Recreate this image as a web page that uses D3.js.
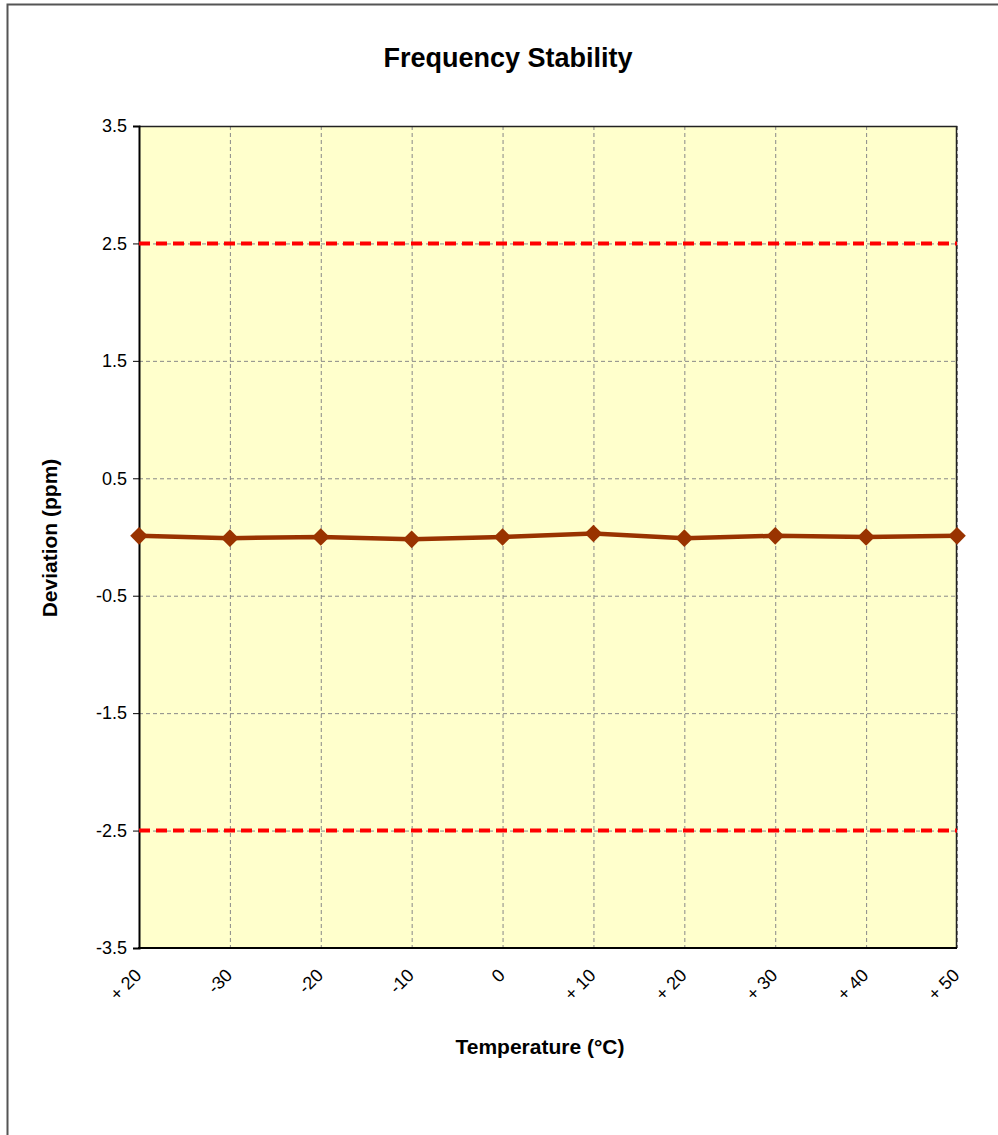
<!DOCTYPE html>
<html>
<head>
<meta charset="utf-8">
<script src="https://cdn.jsdelivr.net/npm/d3@7"></script>
<style>
  body { margin: 0; background: #fff; }
  text { font-family: Arial, "Liberation Sans", sans-serif; }
</style>
</head>
<body>
<svg id="chart"></svg>
<script>
// Chart data
var categories = ['+ 20', '-30', '-20', '-10', '0', '+ 10', '+ 20 ', '+ 30', '+ 40', '+ 50'];
var deviation = [0.01, -0.01, 0.0, -0.02, 0.0, 0.03, -0.01, 0.01, 0.0, 0.01];
var limits = [2.5, -2.5];
var yTicks = [-3.5, -2.5, -1.5, -0.5, 0.5, 1.5, 2.5, 3.5];

var config = {
  width: 998,
  height: 1135,
  plot: { left: 139, right: 957, top: 126, bottom: 948 },
  lineColor: '#993300',
  limitColor: '#ff0000',
  plotFill: '#ffffcc',
  tickFont: '18px',
  axisTitleFont: '21px',
};

var svg = d3.select('#chart')
  .attr('width', config.width)
  .attr('height', config.height);

// outer chart frame
svg.append('rect')
  .attr('x', 7.5).attr('y', 4.5)
  .attr('width', 1100).attr('height', 1200)
  .attr('fill', 'none')
  .attr('stroke', '#555')
  .attr('stroke-width', 2);

var x = d3.scalePoint()
  .domain(categories)
  .range([config.plot.left, config.plot.right]);

var y = d3.scaleLinear()
  .domain([-3.5, 3.5])
  .range([config.plot.bottom, config.plot.top]);

// plot background
svg.append('rect')
  .attr('x', config.plot.left).attr('y', config.plot.top)
  .attr('width', config.plot.right - config.plot.left)
  .attr('height', config.plot.bottom - config.plot.top)
  .attr('fill', config.plotFill);

// gridlines
svg.append('g')
  .selectAll('line')
  .data(yTicks)
  .join('line')
  .attr('x1', config.plot.left).attr('x2', config.plot.right)
  .attr('y1', function(d) { return y(d) + 0.5; })
  .attr('y2', function(d) { return y(d) + 0.5; })
  .attr('stroke', '#888').attr('stroke-width', 1)
  .attr('stroke-dasharray', '4,3');

svg.append('g')
  .selectAll('line')
  .data(categories)
  .join('line')
  .attr('x1', function(d) { return x(d) + 0.5; })
  .attr('x2', function(d) { return x(d) + 0.5; })
  .attr('y1', config.plot.top).attr('y2', config.plot.bottom)
  .attr('stroke', '#888').attr('stroke-width', 1)
  .attr('stroke-dasharray', '4,3');

// plot border (top / right thin)
svg.append('path')
  .attr('d', 'M' + config.plot.left + ',' + (config.plot.top + 0.5) +
    'H' + (config.plot.right - 0.5) + 'V' + config.plot.bottom)
  .attr('fill', 'none')
  .attr('stroke', '#222')
  .attr('stroke-width', 1.5);

// y axis (plain hyphen for negatives, like the original)
var yAxis = svg.append('g')
  .attr('transform', 'translate(' + config.plot.left + ',0)')
  .call(d3.axisLeft(y).tickValues(yTicks).tickSize(6).tickPadding(6)
    .tickFormat(function(d) { return d.toFixed(1); }));
yAxis.select('.domain').attr('stroke', '#000').attr('stroke-width', 2);
yAxis.selectAll('.tick line').attr('stroke', '#000');
yAxis.selectAll('.tick text')
  .attr('font-size', config.tickFont)
  .attr('fill', '#000')
  .attr('font-family', 'Arial, "Liberation Sans", sans-serif');

// x axis line
svg.append('line')
  .attr('x1', config.plot.left - 1).attr('x2', config.plot.right)
  .attr('y1', config.plot.bottom).attr('y2', config.plot.bottom)
  .attr('stroke', '#000').attr('stroke-width', 2);

// x tick labels, rotated
svg.append('g')
  .selectAll('text')
  .data(categories)
  .join('text')
  .attr('transform', function(d) {
    return 'translate(' + (x(d) - 1) + ',' + (config.plot.bottom + 24) + ') rotate(-45)';
  })
  .attr('text-anchor', 'end')
  .attr('dy', '0.35em')
  .attr('font-size', config.tickFont)
  .attr('fill', '#000')
  .text(function(d) { return d.trim(); });

// limit lines
svg.append('g')
  .selectAll('line')
  .data(limits)
  .join('line')
  .attr('x1', config.plot.left).attr('x2', config.plot.right)
  .attr('y1', function(d) { return y(d); })
  .attr('y2', function(d) { return y(d); })
  .attr('stroke', config.limitColor)
  .attr('stroke-width', 4)
  .attr('stroke-dasharray', '11,6');

// data line
var line = d3.line()
  .x(function(d, i) { return x(categories[i]); })
  .y(function(d) { return y(d); });

svg.append('path')
  .attr('d', line(deviation))
  .attr('fill', 'none')
  .attr('stroke', config.lineColor)
  .attr('stroke-width', 4.5);

// diamond markers
var diamond = d3.symbol().type(d3.symbolSquare).size(155);
svg.append('g')
  .selectAll('path')
  .data(deviation)
  .join('path')
  .attr('d', diamond)
  .attr('transform', function(d, i) {
    return 'translate(' + x(categories[i]) + ',' + y(d) + ') rotate(45)';
  })
  .attr('fill', config.lineColor);

// titles
svg.append('text')
  .attr('x', 508).attr('y', 67)
  .attr('text-anchor', 'middle')
  .attr('font-size', '27px')
  .attr('font-weight', 'bold')
  .text('Frequency Stability');

svg.append('text')
  .attr('x', 540).attr('y', 1054)
  .attr('text-anchor', 'middle')
  .attr('font-size', config.axisTitleFont)
  .attr('font-weight', 'bold')
  .text('Temperature (°C)');

svg.append('text')
  .attr('transform', 'translate(57,538) rotate(-90)')
  .attr('text-anchor', 'middle')
  .attr('font-size', config.axisTitleFont)
  .attr('font-weight', 'bold')
  .text('Deviation (ppm)');
</script>
</body>
</html>
